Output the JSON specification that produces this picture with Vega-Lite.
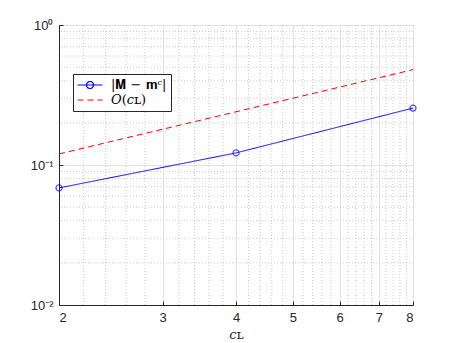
{
  "$schema": "https://vega.github.io/schema/vega-lite/v6.json",
  "width": 354,
  "height": 280,
  "autosize": {"type": "none"},
  "padding": {"left": 59, "top": 25, "right": 44, "bottom": 38},
  "background": "white",
  "config": {
    "view": {"stroke": "#262626", "strokeWidth": 1},
    "font": "Liberation Sans",
    "axis": {
      "domainColor": "#262626",
      "tickColor": "#262626",
      "labelColor": "#262626",
      "labelFont": "Liberation Sans",
      "labelFontSize": 13,
      "gridColor": "#e3e3e3",
      "gridWidth": 1,
      "tickSize": -4,
      "labelPadding": 10
    }
  },
  "datasets": {
    "series": [
      {"c": 2, "v": 0.0686, "s": "|𝐌 − 𝐦ᶜ|"},
      {"c": 4, "v": 0.122, "s": "|𝐌 − 𝐦ᶜ|"},
      {"c": 8, "v": 0.255, "s": "|𝐌 − 𝐦ᶜ|"},
      {"c": 2, "v": 0.12, "s": "𝑂(𝑐ʟ)"},
      {"c": 4, "v": 0.24, "s": "𝑂(𝑐ʟ)"},
      {"c": 8, "v": 0.48, "s": "𝑂(𝑐ʟ)"}
    ],
    "xminor": [
      {"x": 2.2}, {"x": 2.4}, {"x": 2.6}, {"x": 2.8},
      {"x": 3.2}, {"x": 3.4}, {"x": 3.6}, {"x": 3.8},
      {"x": 4.2}, {"x": 4.4}, {"x": 4.6}, {"x": 4.8},
      {"x": 5.2}, {"x": 5.4}, {"x": 5.6}, {"x": 5.8},
      {"x": 6.2}, {"x": 6.4}, {"x": 6.6}, {"x": 6.8},
      {"x": 7.2}, {"x": 7.4}, {"x": 7.6}, {"x": 7.8}
    ],
    "yminor": [
      {"y": 0.02}, {"y": 0.03}, {"y": 0.04}, {"y": 0.05}, {"y": 0.06}, {"y": 0.07}, {"y": 0.08}, {"y": 0.09},
      {"y": 0.2}, {"y": 0.3}, {"y": 0.4}, {"y": 0.5}, {"y": 0.6}, {"y": 0.7}, {"y": 0.8}, {"y": 0.9}
    ]
  },
  "resolve": {"scale": {"x": "shared", "y": "shared"}},
  "layer": [
    {
      "data": {"name": "xminor"},
      "mark": {"type": "rule", "color": "#b8b8b8", "strokeDash": [1, 2], "strokeWidth": 0.7},
      "encoding": {
        "x": {"field": "x", "type": "quantitative", "scale": {"type": "log", "domain": [2, 8], "nice": false}}
      }
    },
    {
      "data": {"name": "yminor"},
      "mark": {"type": "rule", "color": "#b8b8b8", "strokeDash": [1, 2], "strokeWidth": 0.7},
      "encoding": {
        "y": {"field": "y", "type": "quantitative", "scale": {"type": "log", "domain": [0.01, 1], "nice": false}}
      }
    },
    {
      "data": {"name": "series"},
      "mark": {"type": "line", "strokeWidth": 1, "clip": false},
      "encoding": {
        "x": {
          "field": "c", "type": "quantitative",
          "scale": {"type": "log", "domain": [2, 8], "nice": false},
          "axis": {"values": [2, 3, 4, 5, 6, 7, 8], "format": "d", "grid": true,
                   "title": "𝑐ʟ", "titleFont": "DejaVu Serif", "titleFontWeight": "normal",
                   "titleFontSize": 13, "titleColor": "#262626", "titlePadding": 4}
        },
        "y": {
          "field": "v", "type": "quantitative",
          "scale": {"type": "log", "domain": [0.01, 1], "nice": false},
          "axis": {"values": [0.01, 0.1, 1], "grid": true, "title": null,
                   "labelExpr": "datum.value >= 1 ? '10⁰' : datum.value >= 0.1 ? '10⁻¹' : '10⁻²'"}
        },
        "color": {
          "field": "s", "type": "nominal",
          "scale": {"domain": ["|𝐌 − 𝐦ᶜ|", "𝑂(𝑐ʟ)"], "range": ["#0000ff", "#ff0000"]},
          "legend": {
            "title": null, "orient": "none", "legendX": 14, "legendY": 49,
            "strokeColor": "#262626", "fillColor": "white", "padding": 4,
            "symbolType": "M-2,0H2", "symbolSize": 156, "symbolStrokeWidth": 1.2,
            "symbolOffset": 6, "labelOffset": 14,
            "labelFont": "DejaVu Serif", "labelFontSize": 13, "labelColor": "#000000",
            "rowPadding": 1,
            "encode": {
              "symbols": {
                "update": {
                  "shape": {"signal": "datum.value == '𝑂(𝑐ʟ)' ? 'M-2,0H2' : 'M-2,0H2M0.56,0A0.56,0.56 0 1,1 -0.56,0A0.56,0.56 0 1,1 0.56,0'"},
                  "fill": {"value": "transparent"}
                }
              }
            }
          }
        },
        "strokeDash": {
          "field": "s", "type": "nominal",
          "scale": {"domain": ["|𝐌 − 𝐦ᶜ|", "𝑂(𝑐ʟ)"], "range": [[1, 0], [6, 4]]},
          "legend": {"title": null}
        }
      }
    },
    {
      "data": {"name": "series"},
      "transform": [{"filter": "datum.s == '|𝐌 − 𝐦ᶜ|'"}],
      "mark": {"type": "point", "shape": "circle", "filled": false, "color": "#0000ff", "size": 36, "strokeWidth": 1.2, "clip": false},
      "encoding": {
        "x": {"field": "c", "type": "quantitative"},
        "y": {"field": "v", "type": "quantitative"}
      }
    }
  ]
}
